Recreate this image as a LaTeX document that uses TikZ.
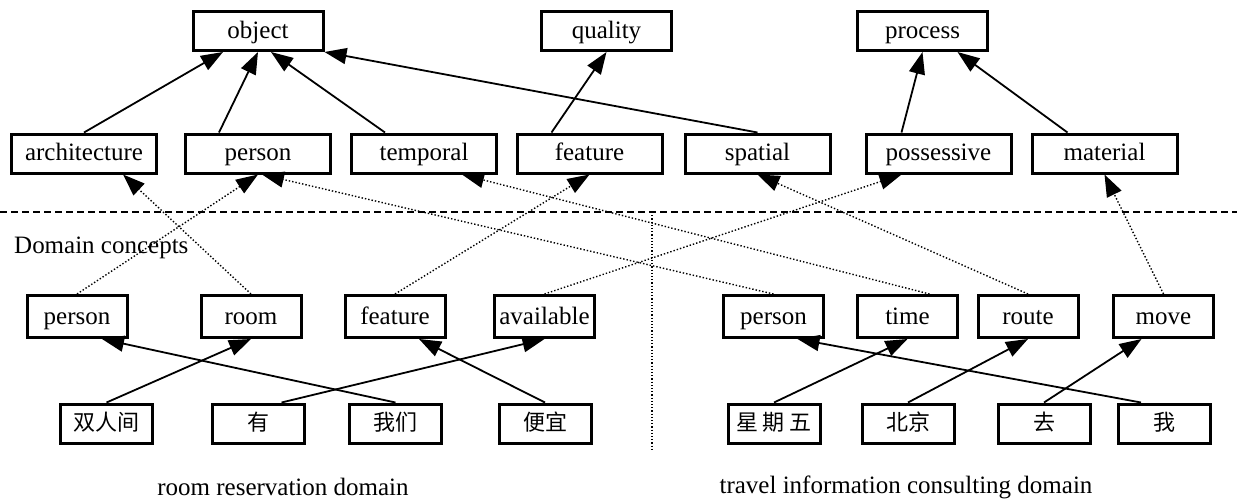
\documentclass[tikz,border=0pt]{standalone}
\usepackage{fontspec}
\setmainfont{Liberation Serif}
\newfontfamily\cjk{Noto Sans CJK SC}
\usetikzlibrary{arrows.meta}
\begin{document}
\begin{tikzpicture}[x=1pt,y=-1pt,
  box/.style={draw, line width=3pt, minimum height=39pt, inner sep=0pt,
    font=\fontsize{25}{29}\selectfont, text height=18pt, text depth=4pt},
  wbox/.style={box, minimum width=145pt},
  tbox/.style={box, minimum width=130pt},
  cbox/.style={box, minimum width=100pt, minimum height=42pt, text height=19pt, text depth=3pt},
  zbox/.style={box, minimum width=92pt, font=\cjk\fontsize{22}{26}\selectfont},
  lbl/.style={inner sep=0pt, font=\fontsize{25}{29}\selectfont},
  isa/.style={line width=1.8pt, -{Triangle[length=22pt,width=16pt]}},
  map/.style={line width=1.4pt, dotted, -{Triangle[length=22pt,width=16pt]}},
  sep/.style={line width=1.5pt, dash pattern=on 7pt off 4pt},
  vsep/.style={line width=1.2pt, dotted}]
\fill[white] (0,0) rectangle (1237,499);
\useasboundingbox (0,0) rectangle (1237,499);
% top concepts
\node[tbox] (obj) at (258,31) {object};
\node[tbox] (qua) at (606.5,31) {quality};
\node[tbox] (pro) at (922.5,31) {process};
% second level
\node[wbox] (arc) at (84,153.5) {architecture};
\node[wbox] (per) at (258,153.5) {person};
\node[wbox] (tem) at (424,153.5) {temporal};
\node[wbox] (fea) at (589.5,153.5) {feature};
\node[wbox] (spa) at (757.5,153.5) {spatial};
\node[wbox] (pos) at (938.5,153.5) {possessive};
\node[wbox] (mat) at (1104.5,153.5) {material};
% domain concepts
\node[cbox] (rp) at (77,316.5) {person};
\node[cbox] (rr) at (251,316.5) {room};
\node[cbox] (rf) at (395,316.5) {feature};
\node[cbox] (ra) at (544.5,316.5) {available};
\node[cbox] (tp) at (773.5,316.5) {person};
\node[cbox] (tt) at (907.5,316.5) {time};
\node[cbox] (tr) at (1028,316.5) {route};
\node[cbox] (tm) at (1163.5,316.5) {move};
% words
\node[zbox] (c1) at (106.5,423.5) {双人间};
\node[zbox] (c2) at (258.5,423.5) {有};
\node[zbox] (c3) at (395.5,423.5) {我们};
\node[zbox] (c4) at (545,423.5) {便宜};
\node[zbox] (c5) at (774,423.5) {星 期 五};
\node[zbox] (c6) at (908,423.5) {北京};
\node[zbox] (c7) at (1044,423.5) {去};
\node[zbox] (c8) at (1164,423.5) {我};
% labels
\node[lbl, anchor=west] (dc) at (14,248) {Domain concepts};
\node[lbl] (cap1) at (283,487) {room reservation domain};
\node[lbl] (cap2) at (906,487) {travel information consulting domain};
% separators
\coordinate (dl) at (0,212);
\coordinate (dr) at (1237,212);
\coordinate (vt) at (652,212);
\coordinate (vb) at (652,450);
\draw[sep] (dl) -- (dr);
\draw[vsep] (vt) -- (vb);
% is-a links
\draw[isa] (arc.north) -- ([xshift=-35pt]obj.south);
\draw[isa] ([xshift=-39pt]per.north) -- (obj.south);
\draw[isa] ([xshift=-39pt]tem.north) -- ([xshift=13pt]obj.south);
\draw[isa] (spa.north) -- (obj.south east);
\draw[isa] ([xshift=-38pt]fea.north) -- (qua.south);
\draw[isa] ([xshift=-37pt]pos.north) -- (pro.south);
\draw[isa] ([xshift=-37pt]mat.north) -- ([xshift=35pt]pro.south);
% mappings
\draw[map] (rr.north) -- ([xshift=39pt]arc.south);
\draw[map] (rp.north) -- (per.south);
\draw[map] (rf.north) -- (fea.south);
\draw[map] (ra.north) -- ([xshift=-37pt]pos.south);
\draw[map] (tp.north) -- ([xshift=4pt]per.south);
\draw[map] ([xshift=22pt]tt.north) -- ([xshift=38pt]tem.south);
\draw[map] (tr.north) -- (spa.south);
\draw[map] (tm.north) -- (mat.south);
% word links
\draw[isa] (c1.north) -- (rr.south);
\draw[isa] ([xshift=23pt]c2.north) -- (ra.south);
\draw[isa] (c3.north) -- ([xshift=25pt]rp.south);
\draw[isa] (c4.north) -- ([xshift=24pt]rf.south);
\draw[isa] (c5.north) -- (tt.south);
\draw[isa] (c6.north) -- (tr.south);
\draw[isa] (c7.north) -- ([xshift=-22pt]tm.south);
\draw[isa] ([xshift=-23pt]c8.north) -- ([xshift=24pt]tp.south);
\end{tikzpicture}
\end{document}
